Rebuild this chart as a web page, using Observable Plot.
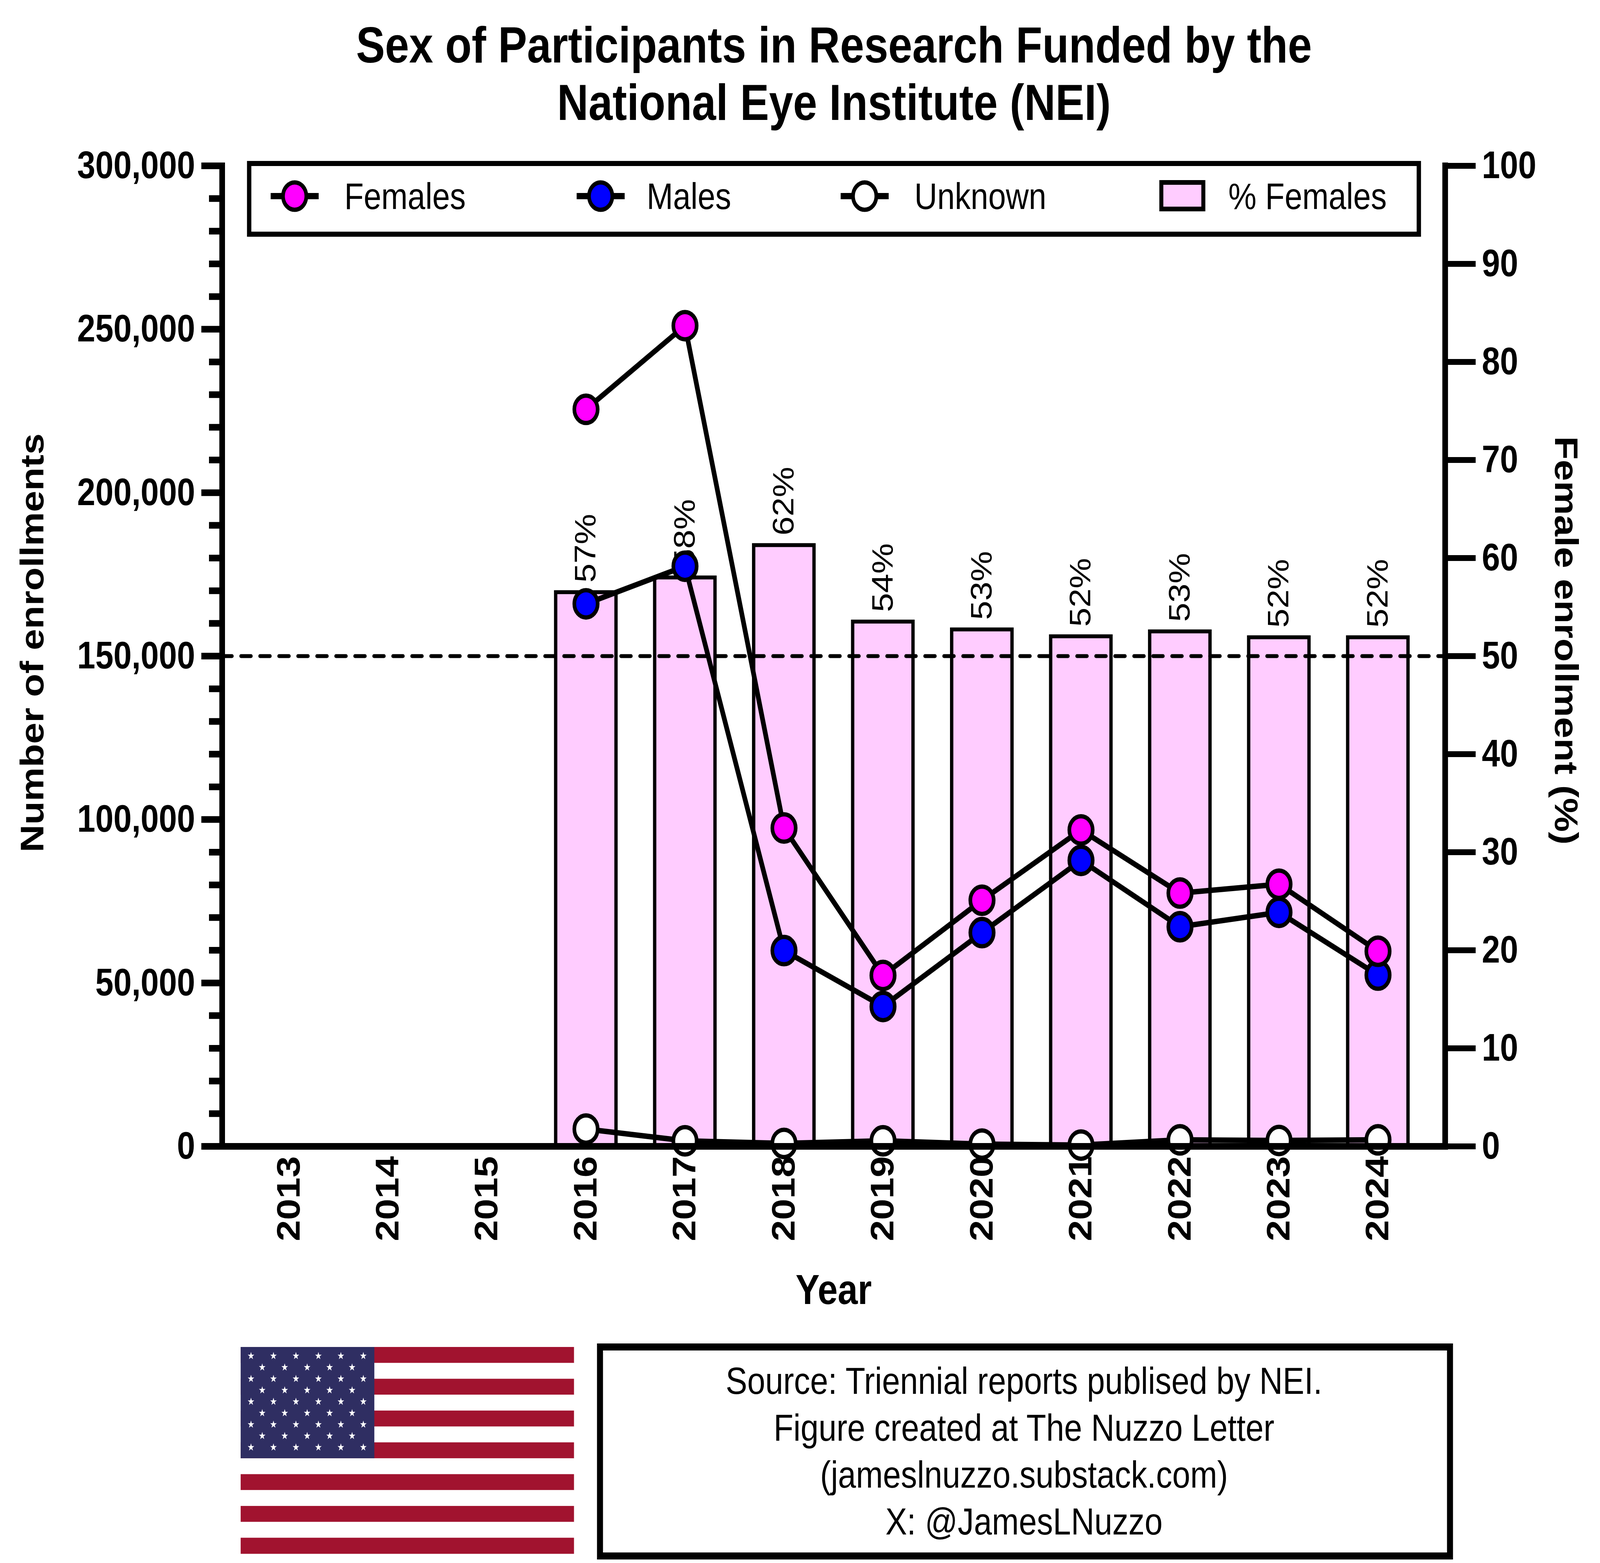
<!DOCTYPE html>
<html>
<head>
<meta charset="utf-8">
<script src="https://cdn.jsdelivr.net/npm/d3@7"></script>
<script src="https://cdn.jsdelivr.net/npm/@observablehq/plot@0.6"></script>
<style>
  html, body { margin: 0; padding: 0; background: #fff; overflow: hidden; }
  #page { position: absolute; left: 0; top: 0; width: 4800px; height: 4001px; overflow: hidden; background: #fff; font-family: "Liberation Sans", Arial, sans-serif; transform-origin: 0 0; }
  #chart { position: absolute; left: 0; top: 330px; }
  #overlay { position: absolute; left: 0; top: 0; }
</style>
</head>
<body>
<div id="page">
  <div id="chart"></div>
  <svg id="overlay" width="4800" height="4001"></svg>
</div>
<script>
// ---------------- data ----------------
const years = ["2013", "2014", "2015", "2016", "2017", "2018", "2019", "2020", "2021", "2022", "2023", "2024"];
const dataYears = ["2016", "2017", "2018", "2019", "2020", "2021", "2022", "2023", "2024"];
const females = [225500, 251100, 97400, 52300, 75300, 96800, 77500, 80200, 59700];
const males   = [166000, 177500, 59900, 42800, 65400, 87500, 67200, 71600, 52400];
const unknown = [5300, 1700, 900, 1700, 700, 400, 2000, 1800, 2000];
const pctFemales = [56.5, 58.0, 61.3, 53.5, 52.7, 52.0, 52.5, 51.9, 51.9];
const pctLabels = ["57%", "58%", "62%", "54%", "53%", "52%", "53%", "52%", "52%"];

const leftTicks = [0, 50000, 100000, 150000, 200000, 250000, 300000];
const leftMinorTicks = d3.range(0, 300001, 10000).filter(d => d % 50000 !== 0);
const rightTicks = [0, 10, 20, 30, 40, 50, 60, 70, 80, 90, 100];
const referenceLine = 50; // % on right axis

const title = ["Sex of Participants in Research Funded by the", "National Eye Institute (NEI)"];
const yLabel = "Number of enrollments";
const y2Label = "Female enrollment (%)";
const xLabel = "Year";
const legendLabels = ["Females", "Males", "Unknown", "% Females"];
const sourceLines = [
  "Source: Triennial reports publised by NEI.",
  "Figure created at The Nuzzo Letter",
  "(jameslnuzzo.substack.com)",
  "X: @JamesLNuzzo"
];

const colors = { females: "#FF00FF", males: "#0000FF", unknown: "#FFFFFF", bar: "#FFCCFF" };

// right axis (0–100 %) maps onto the left axis (0–300,000)
const K = 300000 / 100;

const rows = dataYears.map((year, i) => ({
  year,
  females: females[i],
  males: males[i],
  unknown: unknown[i],
  pct: pctFemales[i],
  label: pctLabels[i]
}));

// ---------------- chart ----------------
const FONT = '"Liberation Sans", Arial, Helvetica, sans-serif';

const chart = Plot.plot({
  width: 4800,
  height: 3070,
  marginTop: 94,
  marginBottom: 466,
  marginLeft: 666,
  marginRight: 465,
  style: { fontFamily: FONT, fontSize: "98px", fontWeight: "bold", color: "black", background: "white", maxWidth: "none" },
  x: { type: "band", domain: years, paddingInner: 0.39, paddingOuter: 0.357 },
  y: { domain: [0, 300000] },
  marks: [
    Plot.barY(rows, { x: "year", y: d => d.pct * K, fill: colors.bar, stroke: "black", strokeWidth: 10 }),
    Plot.text(rows, {
      x: "year", y: d => d.pct * K, text: "label", rotate: -90,
      textAnchor: "start", lineAnchor: "middle", dy: -25,
      fontSize: 88, fontWeight: "normal", fill: "black"
    }),
    Plot.ruleY([referenceLine * K], { stroke: "black", strokeWidth: 10, strokeDasharray: "30,27", strokeLinecap: "round" }),
    Plot.lineY(rows, { x: "year", y: "unknown", stroke: "black", strokeWidth: 14 }),
    Plot.lineY(rows, { x: "year", y: "males", stroke: "black", strokeWidth: 14 }),
    Plot.lineY(rows, { x: "year", y: "females", stroke: "black", strokeWidth: 14 }),
    Plot.dot(rows, { x: "year", y: "males", r: 35, fill: colors.males, stroke: "black", strokeWidth: 11 }),
    Plot.dot(rows, { x: "year", y: "females", r: 35, fill: colors.females, stroke: "black", strokeWidth: 11 }),
    Plot.dot(rows, { x: "year", y: "unknown", r: 35, fill: colors.unknown, stroke: "black", strokeWidth: 11 }),
    // axis lines
    Plot.ruleY([0], { stroke: "black", strokeWidth: 17 }),
    Plot.frame({ anchor: "left", stroke: "black", strokeWidth: 17 }),
    Plot.frame({ anchor: "right", stroke: "black", strokeWidth: 17 }),
    // left axis
    Plot.axisY(leftMinorTicks, { anchor: "left", tickSize: 39, strokeWidth: 17, text: null, label: null }),
    Plot.axisY(leftTicks, { anchor: "left", tickSize: 62, tickPadding: 19, strokeWidth: 17, tickFormat: d3.format(","), label: null }),
    // right axis
    Plot.axisY(rightTicks.map(d => d * K), { anchor: "right", tickSize: 91, tickPadding: 19, strokeWidth: 15, tickFormat: d => String(Math.round(d / K)), label: null }),
    // x axis
    Plot.axisX({ tickSize: 0, tickPadding: 25, tickRotate: -90, textAnchor: "end", label: null }),
    // axis titles
    Plot.text([yLabel], { frameAnchor: "left", text: d => d, rotate: -90, textAnchor: "middle", lineAnchor: "bottom", dx: -536, dy: -34, fontSize: 98, fontWeight: "bold" }),
    Plot.text([y2Label], { frameAnchor: "right", text: d => d, rotate: 90, textAnchor: "middle", lineAnchor: "bottom", dx: 330, dy: -40, fontSize: 98, fontWeight: "bold" }),
    Plot.text([xLabel], { frameAnchor: "bottom", text: d => d, textAnchor: "middle", lineAnchor: "bottom", dy: 403, fontSize: 108, fontWeight: "bold" })
  ]
});
document.getElementById("chart").appendChild(chart);

// ---------------- overlay: title, legend, flag, source ----------------
const ov = d3.select("#overlay").style("font-family", FONT);

// title
ov.selectAll("text.title").data(title).join("text")
  .attr("class", "title")
  .attr("x", 2502).attr("y", (d, i) => 160 + i * 147)
  .attr("text-anchor", "middle").attr("font-size", 130).attr("font-weight", "bold").attr("fill", "black")
  .text(d => d);

// legend
const lg = ov.append("g");
lg.append("rect").attr("x", 747.5).attr("y", 418.5).attr("width", 3509).attr("height", 181)
  .attr("fill", "white").attr("stroke", "black").attr("stroke-width", 13);
const legendItems = [
  { label: legendLabels[0], fill: colors.females, cx: 884, tx: 1033, type: "dot" },
  { label: legendLabels[1], fill: colors.males, cx: 1802, tx: 1940, type: "dot" },
  { label: legendLabels[2], fill: colors.unknown, cx: 2594, tx: 2743, type: "dot" },
  { label: legendLabels[3], fill: colors.bar, cx: 3547, tx: 3685, type: "bar" }
];
legendItems.forEach(it => {
  if (it.type === "dot") {
    lg.append("line").attr("x1", it.cx - 72).attr("x2", it.cx + 72).attr("y1", 502).attr("y2", 502)
      .attr("stroke", "black").attr("stroke-width", 16);
    lg.append("circle").attr("cx", it.cx).attr("cy", 502).attr("r", 35)
      .attr("fill", it.fill).attr("stroke", "black").attr("stroke-width", 11);
  } else {
    lg.append("rect").attr("x", it.cx - 63).attr("y", 467).attr("width", 126).attr("height", 68)
      .attr("fill", it.fill).attr("stroke", "black").attr("stroke-width", 12);
  }
  lg.append("text").attr("x", it.tx).attr("y", 535).attr("font-size", 95).attr("fill", "black").text(it.label);
});

// flag
const flag = ov.append("g");
const fx = 722, fy = 3448, fw = 1000, fh = 529, stripeH = fh / 13;
flag.selectAll("rect.stripe").data(d3.range(13)).join("rect")
  .attr("x", fx).attr("y", i => fy + i * stripeH).attr("width", fw).attr("height", stripeH + 0.5)
  .attr("fill", i => i % 2 === 0 ? "#A1132F" : "#FFFFFF");
const cw = 401, ch = stripeH * 7;
flag.append("rect").attr("x", fx).attr("y", fy).attr("width", cw).attr("height", ch).attr("fill", "#2F2E62");
const starPath = d3.symbol(d3.symbolStar, 120)();
const stars = [];
for (let r = 0; r < 9; r++) {
  const n = r % 2 === 0 ? 6 : 5;
  for (let c = 0; c < n; c++) {
    const sx = fx + 31 + (r % 2 === 0 ? c : c + 0.5) * 67.4;
    const sy = fy + 23 + r * 29.25;
    stars.push([sx, sy]);
  }
}
flag.selectAll("path.star").data(stars).join("path")
  .attr("d", starPath).attr("transform", d => `translate(${d[0]},${d[1]})`).attr("fill", "white");

// source box
const sb = ov.append("g");
sb.append("rect").attr("x", 1800).attr("y", 3448).attr("width", 2550).attr("height", 535)
  .attr("fill", "white").attr("stroke", "black").attr("stroke-width", 18);
sb.selectAll("text").data(sourceLines).join("text")
  .attr("x", 3072).attr("y", (d, i) => 3568 + i * 120)
  .attr("text-anchor", "middle").attr("font-size", 97).attr("fill", "black")
  .text(d => d);

// fit the 4800×4001 page into the actual viewport
function fit() {
  const vw = document.documentElement.clientWidth || window.innerWidth || 4800;
  const vh = document.documentElement.clientHeight || window.innerHeight || 4001;
  const sx = vw / 4800, sy = vh / 4001;
  document.getElementById("page").style.transform = `scale(${sx}, ${sy})`;
}
fit();
</script>
</body>
</html>
